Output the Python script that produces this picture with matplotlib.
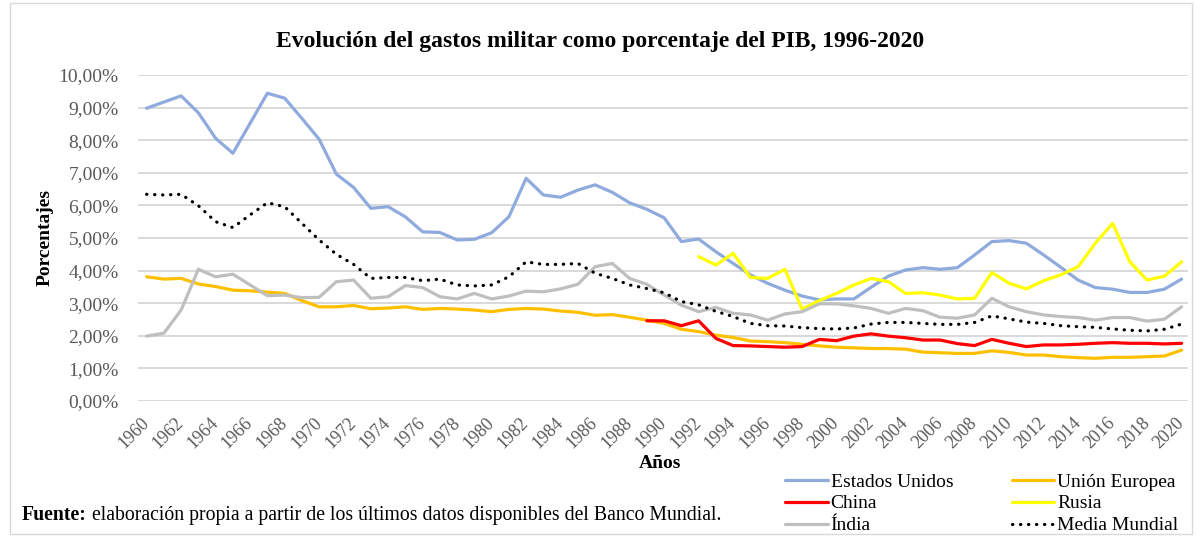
import numpy as np
import matplotlib
matplotlib.use("Agg")
import matplotlib.pyplot as plt
from matplotlib.ticker import FuncFormatter
from matplotlib.patches import Rectangle

plt.rcParams['font.family'] = ['Liberation Serif', 'DejaVu Serif']

years = list(range(1960, 2021))

# valores en % del PIB
estados_unidos = [8.98, 9.17, 9.36, 8.84, 8.06, 7.60, 8.52, 9.44, 9.29, 8.67,
                  8.03, 6.96, 6.55, 5.91, 5.96, 5.65, 5.19, 5.17, 4.94, 4.96,
                  5.16, 5.65, 6.83, 6.32, 6.25, 6.47, 6.63, 6.40, 6.08, 5.88,
                  5.62, 4.89, 4.97, 4.58, 4.22, 3.87, 3.61, 3.40, 3.22, 3.10,
                  3.13, 3.13, 3.49, 3.83, 4.02, 4.09, 4.04, 4.09, 4.48, 4.89,
                  4.92, 4.84, 4.48, 4.10, 3.71, 3.48, 3.43, 3.33, 3.33, 3.43,
                  3.74]
union_europea = [3.81, 3.74, 3.76, 3.59, 3.51, 3.40, 3.38, 3.34, 3.30, 3.08,
                 2.89, 2.89, 2.93, 2.83, 2.85, 2.89, 2.81, 2.84, 2.82, 2.79,
                 2.74, 2.81, 2.84, 2.82, 2.76, 2.72, 2.63, 2.65, 2.57, 2.48,
                 2.38, 2.20, 2.13, 2.02, 1.95, 1.84, 1.82, 1.79, 1.74, 1.69,
                 1.65, 1.63, 1.61, 1.61, 1.59, 1.50, 1.48, 1.46, 1.46, 1.54,
                 1.49, 1.41, 1.41, 1.36, 1.33, 1.31, 1.34, 1.34, 1.36, 1.38,
                 1.56]
china = [np.nan] * 29 + [
    2.46, 2.46, 2.31, 2.46, 1.92, 1.70, 1.69, 1.67, 1.65, 1.67, 1.89,
    1.85, 1.99, 2.06, 1.99, 1.94, 1.87, 1.87, 1.76, 1.70, 1.89,
    1.77, 1.67, 1.72, 1.72, 1.74, 1.77, 1.79, 1.77, 1.77, 1.75, 1.77]
rusia = [np.nan] * 32 + [
    4.43, 4.17, 4.53, 3.79, 3.76, 4.04, 2.82, 3.08,
    3.30, 3.56, 3.76, 3.66, 3.30, 3.32, 3.25, 3.13, 3.15, 3.94,
    3.61, 3.44, 3.69, 3.87, 4.12, 4.84, 5.45, 4.27, 3.71, 3.83, 4.27]
india = [1.99, 2.08, 2.79, 4.04, 3.81, 3.89, 3.56, 3.23, 3.25, 3.17,
         3.18, 3.66, 3.71, 3.15, 3.20, 3.54, 3.48, 3.20, 3.13, 3.30,
         3.13, 3.22, 3.37, 3.35, 3.44, 3.58, 4.12, 4.22, 3.76, 3.58,
         3.25, 2.94, 2.74, 2.87, 2.69, 2.64, 2.48, 2.67, 2.74, 2.98,
         2.98, 2.92, 2.84, 2.69, 2.84, 2.77, 2.57, 2.54, 2.64, 3.15,
         2.89, 2.74, 2.64, 2.59, 2.56, 2.48, 2.56, 2.56, 2.45, 2.51,
         2.89]
media_mundial = [6.34, 6.32, 6.34, 5.99, 5.50, 5.32, 5.71, 6.08, 5.96, 5.45,
                 4.94, 4.50, 4.19, 3.76, 3.79, 3.79, 3.69, 3.74, 3.56, 3.53,
                 3.56, 3.81, 4.27, 4.19, 4.19, 4.22, 3.92, 3.76, 3.56, 3.45,
                 3.32, 3.05, 2.95, 2.75, 2.59, 2.38, 2.31, 2.30, 2.25, 2.22,
                 2.21, 2.24, 2.36, 2.41, 2.41, 2.38, 2.35, 2.35, 2.41, 2.61,
                 2.52, 2.42, 2.38, 2.31, 2.28, 2.26, 2.21, 2.17, 2.15, 2.20,
                 2.36]

series = [
    ("Estados Unidos", estados_unidos, "#8faadc", "-"),
    ("Unión Europea", union_europea, "#ffc000", "-"),
    ("China", china, "#ff0000", "-"),
    ("Rusia", rusia, "#ffff00", "-"),
    ("Índia", india, "#bfbfbf", "-"),
    ("Media Mundial", media_mundial, "black", (0, (0.1, 2.4))),
]

fig = plt.figure(figsize=(12, 5.37), dpi=100)
fig.patches.append(Rectangle((10 / 1200, 3 / 537), 1182 / 1200, 531 / 537,
                             transform=fig.transFigure, fill=False,
                             edgecolor="#d9d9d9", lw=1))
ax = fig.add_axes([138 / 1200, 136 / 537, 1050 / 1200, 326 / 537])

handles = {}
for name, vals, color, ls in series:
    line, = ax.plot(years, vals, color=color, lw=2.3, linestyle=ls,
                    dash_capstyle="round", solid_capstyle="round", label=name)
    handles[name] = line

ax.set_xlim(1959.5, 2020.37)
ax.set_ylim(0, 10)
ax.set_yticks(range(0, 11))
ax.yaxis.set_major_formatter(FuncFormatter(lambda v, p: f"{v:.2f}%".replace(".", ",")))
ax.set_xticks(years[::2])
ax.set_xticklabels([str(y) for y in years[::2]], rotation=45, ha="right",
                   va="center", rotation_mode="anchor")
ax.tick_params(axis="both", length=0, colors="#595959")
ax.tick_params(axis="y", labelsize=14, pad=14)
ax.tick_params(axis="x", labelsize=13, pad=14)
ax.grid(axis="y", color="#d9d9d9", lw=1.4)
ax.set_axisbelow(True)
for s in ax.spines.values():
    s.set_visible(False)

fig.text(0.5, 1 - 41 / 537, "Evolución del gastos militar como porcentaje del PIB, 1996-2020",
         ha="center", va="center", fontsize=17, fontweight="bold")
fig.text(45 / 1200, 1 - 238 / 537, "Porcentajes", rotation=90, ha="center",
         va="center", fontsize=14, fontweight="bold")
fig.text(660 / 1200, 1 - 464 / 537, "Años", ha="center", va="center",
         fontsize=14, fontweight="bold")
src = fig.text(22 / 1200, 1 - 520 / 537, "Fuente:", ha="left", va="baseline",
               fontsize=14.2, fontweight="bold")
ax.annotate(" elaboración propia a partir de los últimos datos disponibles del Banco Mundial.",
            xy=(1, 0), xycoords=src, ha="left", va="bottom", fontsize=14.2,
            annotation_clip=False)

order = ["Estados Unidos", "China", "Índia", "Unión Europea", "Rusia", "Media Mundial"]
fig.legend([handles[n] for n in order], order, ncol=2, loc="upper left",
           bbox_to_anchor=(785 / 1200, 1 - 473 / 537), frameon=False,
           fontsize=14, handlelength=2.2, handletextpad=0.15,
           labelspacing=0.22, columnspacing=3.0, borderpad=0, borderaxespad=0)

fig.savefig("out.png", dpi=100)
